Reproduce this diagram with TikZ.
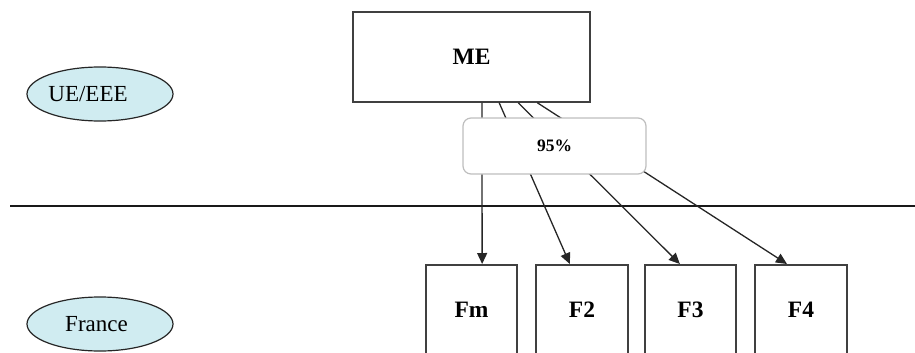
\documentclass[tikz,border=0pt]{standalone}
\usepackage{fontspec}
\setmainfont{Liberation Serif}
\usetikzlibrary{arrows.meta,calc,shapes.geometric}

\definecolor{zone}{RGB}{208,236,241}
\definecolor{boxline}{RGB}{64,64,64}
\definecolor{softline}{RGB}{190,190,190}

\tikzset{
  firmbox/.style={draw=boxline, line width=1.5pt, fill=white, inner sep=0pt},
  zonelabel/.style={ellipse, draw=black!85, line width=1.2pt, fill=zone,
    minimum width=146pt, minimum height=54pt, inner sep=0pt,
    font=\fontsize{23}{26}\selectfont},
  share/.style={draw=black!85, line width=1.3pt,
    -{Triangle[length=11pt,width=10pt]}},
  sharetag/.style={draw=softline, line width=1.2pt, fill=white,
    rounded corners=8pt, minimum width=183pt, minimum height=56pt,
    font=\bfseries\fontsize{17.5}{20}\selectfont},
  boldlabel/.style={font=\bfseries\fontsize{23.5}{26}\selectfont}
}

\begin{document}
\begin{tikzpicture}[x=1pt, y=-1pt]
  \useasboundingbox (0,0) rectangle (915,353);
  \clip (0,0) rectangle (915,353);

  % border between the two levels
  \draw[line width=2pt, draw=black!90] (10,206) -- (915,206);

  % level labels
  \node[zonelabel] (ue) at (100,94) {\hspace*{-24pt}UE/EEE};
  \node[zonelabel] (fr) at (100,324) {\hspace*{-7pt}France};

  % parent company
  \node[firmbox, minimum width=237pt, minimum height=90pt] (me) at (471.5,57) {};
  \node[boldlabel] (melabel) at (me.center) {ME};

  % subsidiaries (boxes run past the lower edge)
  \node[firmbox, minimum width=91pt, minimum height=110pt, anchor=north] (fm) at (471.5,264) {};
  \node[firmbox, minimum width=92pt, minimum height=110pt, anchor=north] (f2) at (582,264) {};
  \node[firmbox, minimum width=91pt, minimum height=110pt, anchor=north] (f3) at (690.5,264) {};
  \node[firmbox, minimum width=92pt, minimum height=110pt, anchor=north] (f4) at (801,264) {};
  \node[boldlabel] (fmlabel) at (471.5,310) {Fm};
  \node[boldlabel] (f2label) at (582,310) {F2};
  \node[boldlabel] (f3label) at (690.5,310) {F3};
  \node[boldlabel] (f4label) at (801,310) {F4};

  % shareholding links
  \draw[share] ($(me.south west)!0.544!(me.south east)$) -- ($(fm.north west)!0.615!(fm.north east)$);
  \draw[share] ($(me.south west)!0.616!(me.south east)$) -- ($(f2.north west)!0.37!(f2.north east)$);
  \draw[share] ($(me.south west)!0.696!(me.south east)$) -- ($(f3.north west)!0.385!(f3.north east)$);
  \draw[share] ($(me.south west)!0.776!(me.south east)$) -- ($(f4.north west)!0.35!(f4.north east)$);

  % share tag over the links
  \node[sharetag] (pct) at (554.5,146) {95\%};
\end{tikzpicture}
\end{document}
